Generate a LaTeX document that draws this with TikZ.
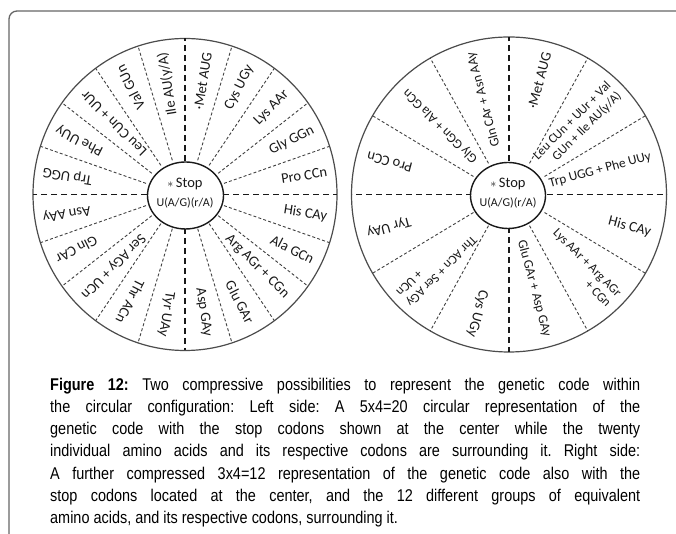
\documentclass[tikz,border=0pt]{standalone}
\usepackage{fontspec}
\setmainfont{Carlito}
\newfontfamily\capfont[FakeStretch=0.85]{Liberation Sans}
\usetikzlibrary{shapes.geometric}
\begin{document}
\begin{tikzpicture}[x=1pt,y=1pt]
\tikzset{
  outerring/.style={draw=black!70, line width=1.2pt},
  centerell/.style={draw=black!90, line width=1.4pt, ellipse, inner sep=0pt},
  thindiv/.style={draw=black!75, line width=0.9pt, dash pattern=on 3pt off 2.2pt},
  thickdiv/.style={draw=black!90, line width=1.8pt, dash pattern=on 6pt off 4pt},
  lab/.style={font=\fontsize{14.5}{15.5}\selectfont, text=black!90, inner sep=0pt, align=right, anchor=east},
  stoptxt/.style={font=\fontsize{14.5}{15}\selectfont, text=black!90, inner sep=0pt},
  codtxt/.style={font=\fontsize{12}{13}\selectfont, text=black!90, inner sep=0pt},
  frameline/.style={draw=black!60, line width=1.3pt, rounded corners=8pt}
}
\useasboundingbox (0,0) rectangle (676,534);
\fill[white] (0,0) rectangle (676,534);
\draw[frameline] (9,-10) -- (9,523) -- (690,523);

% ---------------- left wheel ----------------
\begin{scope}[shift={(185,339.5)}]
  \draw[outerring] (0,0) ellipse [x radius=152, y radius=156];
  \foreach \a in {18,36,54,72,108,126,144,162,198,216,234,252,288,306,324,342}
    \draw[thindiv] (\a:41 and 36) -- (\a:152 and 156);
  \foreach \a in {0,90,180,270}
    \draw[thickdiv] (\a:38 and 33.5) -- (\a:152 and 156);
  \node[centerell, minimum width=76pt, minimum height=67pt, fill=white] (Lc) at (0.5,-1) {};
  \node[stoptxt] (Lstop) at (0,11) {{\fontsize{13}{13}\selectfont$\ast$}\,Stop};
  \node[codtxt] (Lcod) at (0,-8) {U(A/G)(r/A)};
  \foreach \a/\t [count=\i] in {81/{\textperiodcentered Met AUG},63/{Cys UGy},45/{Lys AAr},27/{Gly GGn},9/{Pro CCn},
      -9/{His CAy},-27/{Ala GCn},-45/{Arg AGr + CGn},-63/{Glu GAr},-81/{Asp GAy},
      -99/{Tyr UAy},-117/{Thr ACn},-135/{Ser AGy + UCn},-153/{Gln CAr},-171/{Asn AAy},
      171/{Trp UGG},153/{Phe UUy},135/{Leu CUn + UUr},117/{Val GUn},99/{Ile AU(y/A)}}
    \node[lab, rotate=\a] (Llab\i) at (\a:144) {\t};
\end{scope}

% ---------------- right wheel ----------------
\begin{scope}[shift={(509,339.5)}]
  \draw[outerring] (0,0) circle [radius=157.5];
  \foreach \a in {30,60,120,150,210,240,300,330}
    \draw[thindiv] (\a:41 and 36) -- (\a:157.5);
  \foreach \a in {0,90,180,270}
    \draw[thickdiv] (\a:37.5 and 33) -- (\a:157.5);
  \node[centerell, minimum width=75pt, minimum height=66pt, fill=white] (Rc) at (-1,-1) {};
  \node[stoptxt] (Rstop) at (-1,11) {{\fontsize{13}{13}\selectfont$\ast$}\,Stop};
  \node[codtxt] (Rcod) at (-1,-8) {U(A/G)(r/A)};
  \foreach \a/\s/\r/\t [count=\i] in {75/14.5/147/{\textperiodcentered Met AUG},45/12.8/149/{Leu CUn + UUr + Val\\GUn + Ile AU(y/A)},15/13.3/147/{Trp UGG + Phe UUy},
      -15/14.5/147/{His CAy},-45/12.8/149/{Lys AAr + Arg AGr\\+ CGn},-75/13.3/147/{Glu GAr + Asp GAy},
      -105/14.5/147/{Cys UGy},-135/12.8/149/{Thr ACn + Ser AGy\\+ UCn},-165/14.5/147/{Tyr UAy},
      165/14.5/147/{Pro CCn},135/13.3/147/{Gly GGn + Ala GCn},105/13.3/147/{Gln CAr + Asn AAy}}
    \node[lab, rotate=\a, font=\fontsize{\s}{14.5}\selectfont] (Rlab\i) at (\a:\r) {\t};
\end{scope}

% ---------------- caption ----------------
\node[anchor=north west, inner sep=0pt, text width=590pt, align=justify,
      font=\capfont\fontsize{17}{22.3}\selectfont\frenchspacing] (cap) at (50,156.5)
 {\textbf{Figure 12:} Two compressive possibilities to represent the genetic code within\linebreak
  the circular configuration: Left side: A 5x4=20 circular representation of the\linebreak
  genetic code with the stop codons shown at the center while the twenty\linebreak
  individual amino acids and its respective codons are surrounding it. Right side:\linebreak
  A further compressed 3x4=12 representation of the genetic code also with the\linebreak
  stop codons located at the center, and the 12 different groups of equivalent\linebreak
  amino acids, and its respective codons, surrounding it.};
\end{tikzpicture}
\end{document}
